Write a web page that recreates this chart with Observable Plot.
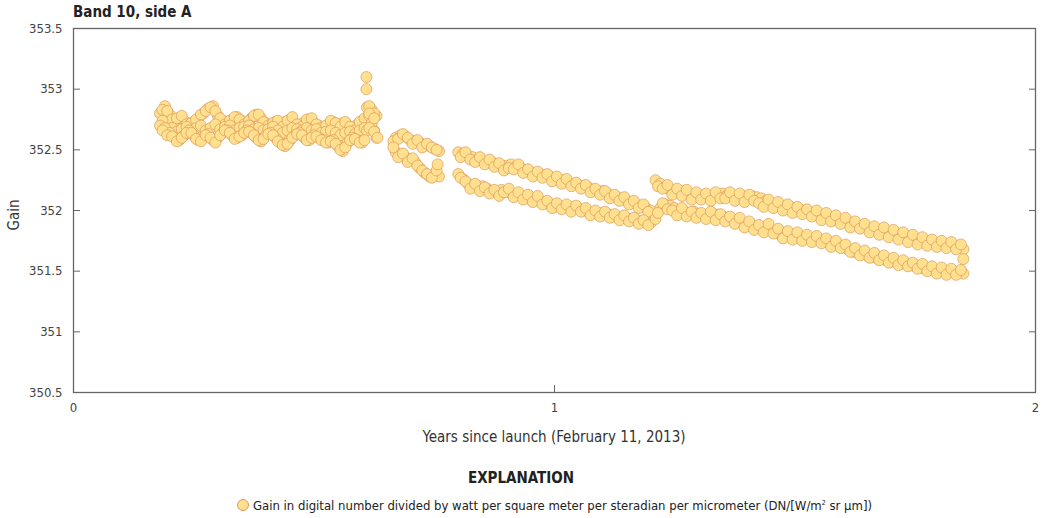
<!DOCTYPE html>
<html><head><meta charset="utf-8">
<script src="https://cdn.jsdelivr.net/npm/d3@7"></script>
<script src="https://cdn.jsdelivr.net/npm/@observablehq/plot@0.6"></script>
<style>
body{margin:0;background:#fff;}
#wrap{position:relative;width:1049px;height:518px;font-family:"Liberation Sans Narrow","DejaVu Sans Condensed","Roboto Condensed",sans-serif;font-stretch:condensed;color:#333;}
#chart{position:absolute;left:0;top:0;}
#title{position:absolute;left:73px;top:3px;font-weight:bold;font-size:15px;color:#222;}
#ylab{position:absolute;left:14px;top:215px;transform:translate(-50%,-50%) rotate(-90deg);font-size:15px;}
#xlab{position:absolute;left:554px;top:437px;transform:translate(-50%,-50%);font-size:15px;white-space:nowrap;}
#expl{position:absolute;left:521px;top:478px;transform:translate(-50%,-50%);font-size:15px;font-weight:bold;color:#222;}
#legend{position:absolute;left:237px;top:498px;font-size:13px;white-space:nowrap;color:#222;}
#legend .dot{display:inline-block;width:10px;height:10px;border-radius:50%;background:#fee08f;border:1px solid #dc9a5c;vertical-align:-1px;margin-right:4px;}
#legend sup{font-size:7px;}
</style></head><body>
<div id="wrap">
<div id="chart"></div>
<div id="title">Band 10, side A</div>
<div id="ylab">Gain</div>
<div id="xlab">Years since launch (February 11, 2013)</div>
<div id="expl">EXPLANATION</div>
<div id="legend"><span class="dot"></span>Gain in digital number divided by watt per square meter per steradian per micrometer (DN/[W/m<sup>2</sup> sr µm])</div>
</div>
<script>
// Segment 1
const seg1Years = [0.18,0.19,0.20,0.21,0.22,0.23,0.24,0.25,0.26,0.27,0.28,0.29,0.30,0.31,0.32,0.33,0.34,0.35,0.36,0.37,0.38,0.39,0.40,0.41,0.42,0.43,0.44,0.45,0.46,0.47,0.48,0.49,0.50,0.51,0.52,0.53,0.54,0.55,0.56,0.57,0.58,0.59,0.60,0.61,0.62,0.63];
const seg1Upper = [352.80,352.86,352.79,352.73,352.76,352.74,352.70,352.73,352.76,352.80,352.84,352.86,352.78,352.74,352.72,352.75,352.77,352.74,352.72,352.76,352.79,352.76,352.72,352.70,352.73,352.71,352.73,352.75,352.72,352.70,352.73,352.75,352.72,352.70,352.68,352.71,352.73,352.70,352.72,352.70,352.67,352.71,352.74,352.85,352.83,352.78];
const seg1Lower = [352.70,352.68,352.64,352.60,352.58,352.62,352.66,352.62,352.58,352.60,352.63,352.58,352.60,352.64,352.66,352.62,352.60,352.62,352.66,352.64,352.60,352.57,352.62,352.64,352.60,352.56,352.53,352.58,352.62,352.64,352.60,352.58,352.62,352.60,352.58,352.56,352.58,352.53,352.49,352.56,352.60,352.58,352.56,352.66,352.72,352.60];
const seg1YearsB = [0.185,0.195,0.205,0.215,0.225,0.235,0.245,0.255,0.265,0.275,0.285,0.295,0.305,0.315,0.325,0.335,0.345,0.355,0.365,0.375,0.385,0.395,0.405,0.415,0.425,0.435,0.445,0.455,0.465,0.475,0.485,0.495,0.505,0.515,0.525,0.535,0.545,0.555,0.565,0.575,0.585,0.595,0.605,0.615,0.625];
const seg1UpperB = [352.83,352.82,352.75,352.76,352.78,352.71,352.72,352.75,352.79,352.82,352.85,352.82,352.76,352.71,352.74,352.77,352.75,352.71,352.74,352.78,352.79,352.73,352.70,352.72,352.74,352.69,352.74,352.77,352.71,352.69,352.75,352.76,352.71,352.68,352.70,352.74,352.72,352.69,352.73,352.69,352.66,352.73,352.76,352.86,352.80];
const seg1MiddleB = [352.74,352.66,352.68,352.65,352.67,352.69,352.66,352.68,352.70,352.66,352.68,352.71,352.67,352.69,352.70,352.66,352.68,352.69,352.70,352.67,352.68,352.66,352.67,352.69,352.66,352.64,352.66,352.68,352.67,352.66,352.68,352.66,352.67,352.64,352.65,352.66,352.64,352.62,352.64,352.65,352.63,352.66,352.68,352.78,352.66];
const seg1LowerB = [352.66,352.62,352.61,352.57,352.60,352.64,352.64,352.59,352.57,352.62,352.60,352.56,352.62,352.66,352.64,352.59,352.61,352.64,352.65,352.62,352.58,352.59,352.63,352.62,352.57,352.54,352.55,352.60,352.63,352.62,352.58,352.60,352.61,352.58,352.56,352.57,352.55,352.50,352.52,352.58,352.59,352.56,352.58,352.68,352.65];
// Spike near 0.61 years
const spikeYears = [0.609,0.609,0.615,0.625,0.632];
const spikeGain = [353.10,353.00,352.80,352.76,352.60];
// Segment 2
const seg2Years = [0.67,0.68,0.69,0.70,0.71,0.72,0.73,0.74,0.75,0.76];
const seg2Upper = [352.60,352.62,352.61,352.58,352.57,352.56,352.54,352.53,352.51,352.49];
const seg2Lower = [352.48,352.46,352.44,352.42,352.40,352.35,352.31,352.28,352.30,352.28];
const seg2YearsB = [0.665,0.675,0.685,0.695,0.705,0.715,0.725,0.735,0.745,0.755];
const seg2UpperB = [352.57,352.59,352.63,352.60,352.55,352.58,352.52,352.55,352.52,352.50];
const seg2LowerB = [352.52,352.44,352.47,352.40,352.43,352.37,352.33,352.30,352.27,352.33];
const seg2ExtraYears = [0.757];
const seg2ExtraGain = [352.38];
// Segment 3
const seg3Years = [0.80,0.81,0.82,0.83,0.84,0.85,0.86,0.87,0.88,0.89,0.90,0.91,0.92,0.93,0.94,0.95,0.96,0.97,0.98,0.99,1.00,1.01,1.02,1.03,1.04,1.05,1.06,1.07,1.08,1.09,1.10,1.11,1.12,1.13,1.14,1.15,1.16,1.17,1.18,1.19,1.20];
const seg3Upper = [352.48,352.47,352.45,352.44,352.42,352.41,352.40,352.40,352.38,352.36,352.37,352.38,352.36,352.35,352.33,352.32,352.30,352.30,352.29,352.28,352.26,352.25,352.25,352.23,352.22,352.21,352.20,352.19,352.17,352.16,352.16,352.14,352.12,352.11,352.10,352.08,352.06,352.05,352.04,352.02,352.00];
const seg3Lower = [352.30,352.26,352.22,352.20,352.19,352.20,352.18,352.16,352.15,352.17,352.16,352.14,352.13,352.12,352.10,352.11,352.10,352.08,352.06,352.05,352.03,352.04,352.03,352.02,352.03,352.02,352.00,351.99,351.98,351.97,351.98,351.97,351.96,351.95,351.94,351.94,351.93,351.92,351.91,351.90,351.90];
const seg3YearsB = [0.805,0.815,0.825,0.835,0.845,0.855,0.865,0.875,0.885,0.895,0.905,0.915,0.925,0.935,0.945,0.955,0.965,0.975,0.985,0.995,1.005,1.015,1.025,1.035,1.045,1.055,1.065,1.075,1.085,1.095,1.105,1.115,1.125,1.135,1.145,1.155,1.165,1.175,1.185,1.195];
const seg3UpperB = [352.44,352.48,352.42,352.40,352.44,352.38,352.42,352.36,352.39,352.33,352.35,352.34,352.38,352.31,352.34,352.28,352.32,352.27,352.30,352.24,352.28,352.22,352.26,352.20,352.23,352.18,352.21,352.15,352.18,352.13,352.16,352.10,352.13,352.08,352.11,352.05,352.08,352.02,352.05,351.99];
const seg3LowerB = [352.27,352.24,352.18,352.22,352.16,352.19,352.14,352.17,352.12,352.15,352.18,352.11,352.15,352.09,352.13,352.07,352.12,352.05,352.08,352.02,352.06,352.01,352.05,351.99,352.04,351.99,352.02,351.96,352.00,351.95,351.99,351.94,351.97,351.92,351.96,351.91,351.94,351.89,351.92,351.88];
// Segment 4
const seg4Years = [1.21,1.22,1.23,1.24,1.25,1.26,1.27,1.28,1.29,1.30,1.31,1.32,1.33,1.34,1.35,1.36,1.37,1.38,1.39,1.40,1.41,1.42,1.43,1.44,1.45,1.46,1.47,1.48,1.49,1.50,1.51,1.52,1.53,1.54,1.55,1.56,1.57,1.58,1.59,1.60,1.61,1.62,1.63,1.64,1.65,1.66,1.67,1.68,1.69,1.70,1.71,1.72,1.73,1.74,1.75,1.76,1.77,1.78,1.79,1.80,1.81,1.82,1.83,1.84,1.85];
const seg4Upper = [352.25,352.22,352.19,352.17,352.16,352.15,352.16,352.14,352.12,352.13,352.12,352.11,352.12,352.13,352.14,352.13,352.12,352.11,352.12,352.11,352.12,352.11,352.10,352.08,352.06,352.05,352.04,352.04,352.03,352.02,352.01,352.00,351.99,351.98,351.96,351.95,351.95,351.94,351.93,351.92,351.91,351.89,351.88,351.87,351.86,351.85,351.84,351.83,351.82,351.81,351.80,351.79,351.78,351.77,351.76,351.75,351.75,351.74,351.73,351.73,351.72,351.72,351.71,351.70,351.68];
const seg4Lower = [351.93,352.02,352.05,352.04,352.02,352.00,351.99,351.98,351.99,351.97,351.96,351.96,351.97,351.96,351.95,351.94,351.93,351.92,351.90,351.88,351.87,351.86,351.85,351.86,351.84,351.82,351.80,351.80,351.79,351.79,351.78,351.78,351.77,351.76,351.76,351.75,351.73,351.72,351.72,351.70,351.68,351.66,351.65,351.64,351.63,351.62,351.61,351.60,351.59,351.58,351.57,351.56,351.56,351.55,351.54,351.53,351.52,351.51,351.51,351.50,351.50,351.49,351.50,351.49,351.48];
const seg4YearsB = [1.215,1.225,1.235,1.245,1.255,1.265,1.275,1.285,1.295,1.305,1.315,1.325,1.335,1.345,1.355,1.365,1.375,1.385,1.395,1.405,1.415,1.425,1.435,1.445,1.455,1.465,1.475,1.485,1.495,1.505,1.515,1.525,1.535,1.545,1.555,1.565,1.575,1.585,1.595,1.605,1.615,1.625,1.635,1.645,1.655,1.665,1.675,1.685,1.695,1.705,1.715,1.725,1.735,1.745,1.755,1.765,1.775,1.785,1.795,1.805,1.815,1.825,1.835,1.845];
const seg4UpperB = [352.20,352.18,352.21,352.13,352.18,352.12,352.17,352.09,352.15,352.09,352.14,352.08,352.15,352.10,352.10,352.15,352.08,352.14,352.07,352.13,352.08,352.06,352.03,352.09,352.02,352.07,352.00,352.05,351.98,352.03,351.97,352.01,351.95,352.00,351.92,351.98,351.91,351.96,351.89,351.94,351.86,351.91,351.85,351.89,351.82,351.87,351.80,351.86,351.78,351.84,351.76,351.82,351.74,351.80,351.72,351.78,351.71,351.76,351.70,351.75,351.69,351.74,351.68,351.72];
const seg4LowerB = [351.98,352.06,352.01,352.00,351.96,352.02,351.95,351.99,351.94,351.98,351.93,351.99,351.92,351.97,351.91,351.95,351.89,351.94,351.86,351.91,351.84,351.88,351.82,351.89,351.81,351.85,351.77,351.83,351.76,351.82,351.75,351.80,351.74,351.79,351.73,351.77,351.70,351.75,351.69,351.72,351.66,351.69,351.63,351.67,351.61,351.65,351.59,351.63,351.57,351.61,351.55,351.59,351.54,351.57,351.52,351.56,351.50,351.54,351.48,351.53,351.47,351.52,351.47,351.51];
const seg4ExtraYears = [1.85];
const seg4ExtraGain = [351.60];

const yTicks = [350.5,351,351.5,352,352.5,353,353.5];
const xTicks = [0,1,2];

const points = [];
function addTrack(years, gains){ years.forEach((t,i)=>points.push({years:t, gain:gains[i]})); }
addTrack(seg1Years, seg1Upper); addTrack(seg1YearsB, seg1UpperB); addTrack(seg1YearsB, seg1MiddleB);
addTrack(seg1Years, seg1Lower); addTrack(seg1YearsB, seg1LowerB);
addTrack(spikeYears, spikeGain);
addTrack(seg2Years, seg2Upper); addTrack(seg2YearsB, seg2UpperB);
addTrack(seg2Years, seg2Lower); addTrack(seg2YearsB, seg2LowerB); addTrack(seg2ExtraYears, seg2ExtraGain);
addTrack(seg3Years, seg3Upper); addTrack(seg3YearsB, seg3UpperB);
addTrack(seg3Years, seg3Lower); addTrack(seg3YearsB, seg3LowerB);
addTrack(seg4Years, seg4Upper); addTrack(seg4YearsB, seg4UpperB);
addTrack(seg4Years, seg4Lower); addTrack(seg4YearsB, seg4LowerB); addTrack(seg4ExtraYears, seg4ExtraGain);

const fmt = d => String(d);
const chart = Plot.plot({
  width: 1049, height: 420,
  marginTop: 28, marginBottom: 28, marginLeft: 73, marginRight: 14,
  style: {fontFamily: '"Liberation Sans Narrow","DejaVu Sans Condensed",sans-serif', fontSize: "13px", color: "#444", background: "#fff"},
  x: {domain: [0, 2]},
  y: {domain: [350.5, 353.5]},
  marks: [
    Plot.dot(points, {x: "years", y: "gain", r: 5.5, fill: "#fee08f", stroke: "#dc9a5c", strokeWidth: 0.7}),
    Plot.frame({stroke: "#666", strokeWidth: 1.3}),
    Plot.axisY({ticks: yTicks, tickSize: -7, tickPadding: 18, tickFormat: fmt, label: null, stroke: "#666"}),
    Plot.axisY({anchor: "right", ticks: yTicks, tickSize: -7, tickFormat: () => "", label: null, stroke: "#666"}),
    Plot.axisX({ticks: xTicks, tickSize: -7, tickPadding: 17, tickFormat: fmt, label: null, stroke: "#666"})
  ]
});
document.getElementById("chart").appendChild(chart);
</script>
</body></html>
